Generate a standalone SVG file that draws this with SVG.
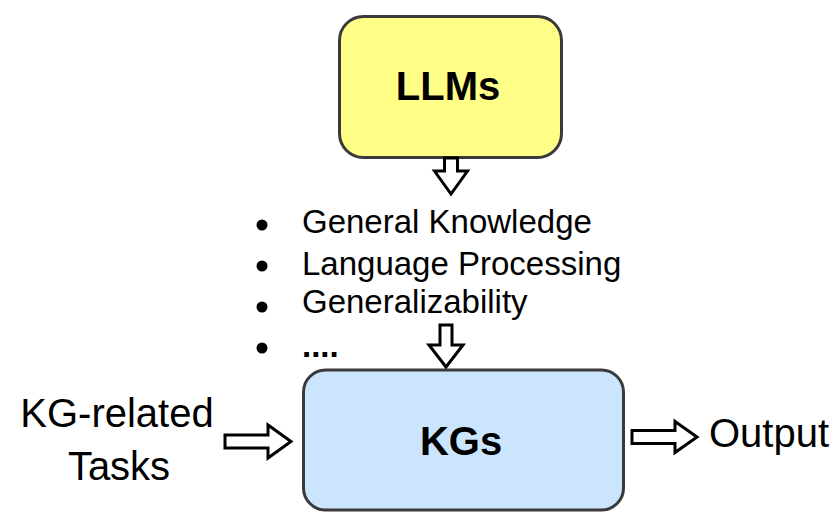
<svg xmlns="http://www.w3.org/2000/svg" width="837" height="513" viewBox="0 0 837 513">
<style>
.box{stroke:#3a3a3a;stroke-width:3}
.arrow{fill:#ffffff;stroke:#000000;stroke-width:3;stroke-linejoin:miter}
.t{font-family:"Liberation Sans",Arial,Helvetica,sans-serif;fill:#000}
.b{font-weight:bold;font-size:40px;text-anchor:middle}
.li{font-size:33px}
.lbl{font-size:40px}
</style>
<rect width="837" height="513" fill="#ffffff"/>
<g id="llms">
<rect class="box" x="339.5" y="16.5" width="222" height="141" rx="24" fill="#ffff88"/>
<text class="t b" x="448" y="100">LLMs</text>
</g>
<g id="features">
<circle cx="262" cy="225" r="5.5"/>
<circle cx="262" cy="266" r="5.5"/>
<circle cx="262" cy="307" r="5.5"/>
<circle cx="262" cy="348" r="5.5"/>
<text class="t li" x="302" y="233">General Knowledge</text>
<text class="t li" x="302" y="275">Language Processing</text>
<text class="t li" x="302" y="313">Generalizability</text>
<text class="t li" x="302" y="357" font-weight="bold">....</text>
</g>
<g id="kgs">
<rect class="box" x="303.5" y="370" width="320" height="140" rx="22" fill="#cce5ff"/>
<text class="t b" x="461" y="455">KGs</text>
</g>
<g id="input">
<text class="t lbl" x="117" y="427" text-anchor="middle">KG-related</text>
<text class="t lbl" x="119" y="480" text-anchor="middle">Tasks</text>
</g>
<g id="output">
<text class="t lbl" x="709" y="447">Output</text>
</g>
<g id="connectors">
<path class="arrow" d="M444.5,158 L457.5,158 L457.5,171 L467.5,171 L451,194 L434.5,171 L444.5,171 Z"/>
<path class="arrow" d="M440,325 L452,325 L452,345 L463,345 L446,367 L429,345 L440,345 Z"/>
<path class="arrow" d="M225,435 L268,435 L268,425 L291,441.5 L268,458 L268,448 L225,448 Z"/>
<path class="arrow" d="M632,430.5 L675,430.5 L675,421.5 L697,437 L675,452.5 L675,443.5 L632,443.5 Z"/>
</g>
</svg>
